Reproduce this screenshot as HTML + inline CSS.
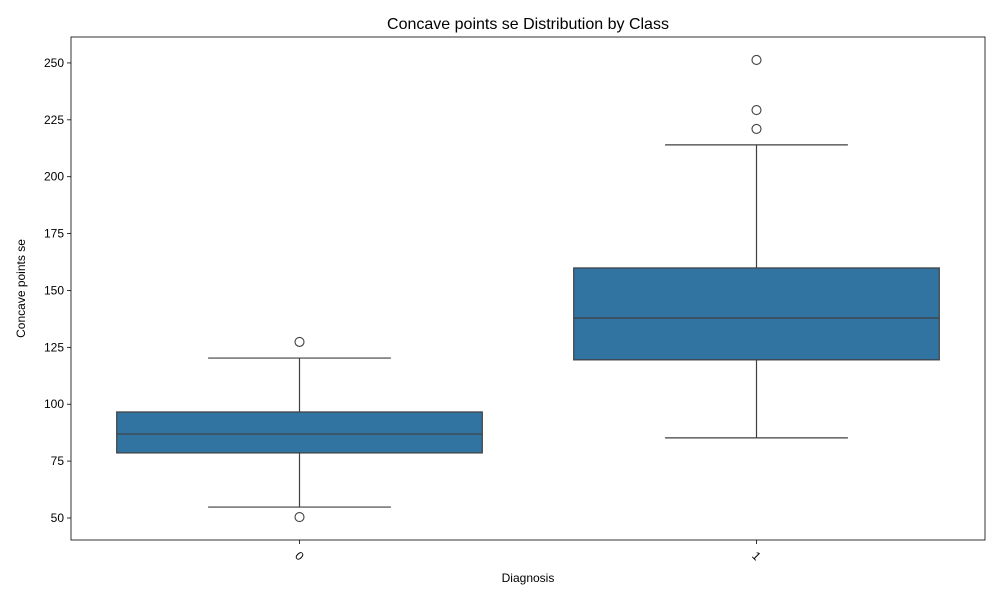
<!DOCTYPE html>
<html><head><meta charset="utf-8"><style>
body{margin:0;background:#fff;}
svg text{font-family:"Liberation Sans","DejaVu Sans",sans-serif;fill:#000;}
</style></head><body>
<svg id="chart" width="1000" height="600"></svg>
<script>
const categories = ["0","1"];
const q1 = [78.6, 119.5];
const medians = [86.9, 137.9];
const q3 = [96.6, 159.9];
const whiskerLow = [54.8, 85.2];
const whiskerHigh = [120.3, 214.0];
const outliers = [[127.4, 50.4], [251.3, 229.3, 221.0]];
const yTicks = [50, 75, 100, 125, 150, 175, 200, 225, 250];

const L=71,R=985,T=37,B=540;
const yMin=40.33,yMax=261.4;
const y=v=>B-(v-yMin)/(yMax-yMin)*(B-T);
const step=(R-L)/categories.length;
const x=i=>L+step*(i+0.5);
const NS="http://www.w3.org/2000/svg";
const svg=document.getElementById('chart');
function mk(tag,attrs,parent){const e=document.createElementNS(NS,tag);for(const k in attrs)e.setAttribute(k,attrs[k]);(parent||svg).appendChild(e);return e;}

const title=mk('text',{x:(L+R)/2,y:29,'text-anchor':'middle','font-size':16});


title.textContent='Concave points se Distribution by Class';

yTicks.forEach(v=>{
  const g=mk('g',{});
  
  
  mk('line',{x1:L-4,x2:L,y1:y(v),y2:y(v),stroke:'#000','stroke-width':0.8},g);
  const t=mk('text',{x:L-7,y:y(v)+4,'text-anchor':'end','font-size':12},g);
  t.textContent=v;
});

categories.forEach((c,i)=>{
  const cx=x(i),bw=step*0.8,hw=bw/2,cw=bw/4;
  const g=mk('g',{});
  
  
  const s={stroke:'#3f3f3f','stroke-width':1.2};
  mk('line',Object.assign({x1:cx,x2:cx,y1:y(q3[i]),y2:y(whiskerHigh[i])},s),g);
  mk('line',Object.assign({x1:cx,x2:cx,y1:y(q1[i]),y2:y(whiskerLow[i])},s),g);
  mk('line',Object.assign({x1:cx-cw,x2:cx+cw,y1:y(whiskerHigh[i]),y2:y(whiskerHigh[i])},s),g);
  mk('line',Object.assign({x1:cx-cw,x2:cx+cw,y1:y(whiskerLow[i]),y2:y(whiskerLow[i])},s),g);
  mk('rect',Object.assign({x:cx-hw,y:y(q3[i]),width:bw,height:y(q1[i])-y(q3[i]),fill:'#3274a1'},s),g);
  mk('line',Object.assign({x1:cx-hw,x2:cx+hw,y1:y(medians[i]),y2:y(medians[i])},s),g);
  outliers[i].forEach(v=>{
    const o=mk('circle',{cx:cx,cy:y(v),r:4.5,fill:'none',stroke:'#3f3f3f','stroke-width':1.1},g);
    
    
  });
  const tg=mk('g',{});
  
  
  mk('line',{x1:cx,x2:cx,y1:B,y2:B+4,stroke:'#000','stroke-width':0.8},tg);
  const t=mk('text',{x:cx,y:B+20,'text-anchor':'middle','font-size':12,transform:`rotate(45 ${cx} ${B+16})`},tg);
  t.textContent=c;
});

const frame=mk('rect',{x:L,y:T,width:R-L,height:B-T,fill:'none',stroke:'#000','stroke-width':0.8});



const xl=mk('text',{x:(L+R)/2,y:582,'text-anchor':'middle','font-size':12});


xl.textContent='Diagnosis';
const yl=mk('text',{x:25,y:(T+B)/2,'text-anchor':'middle','font-size':12,transform:`rotate(-90 25 ${(T+B)/2})`});


yl.textContent='Concave points se';
</script>
</body></html>
